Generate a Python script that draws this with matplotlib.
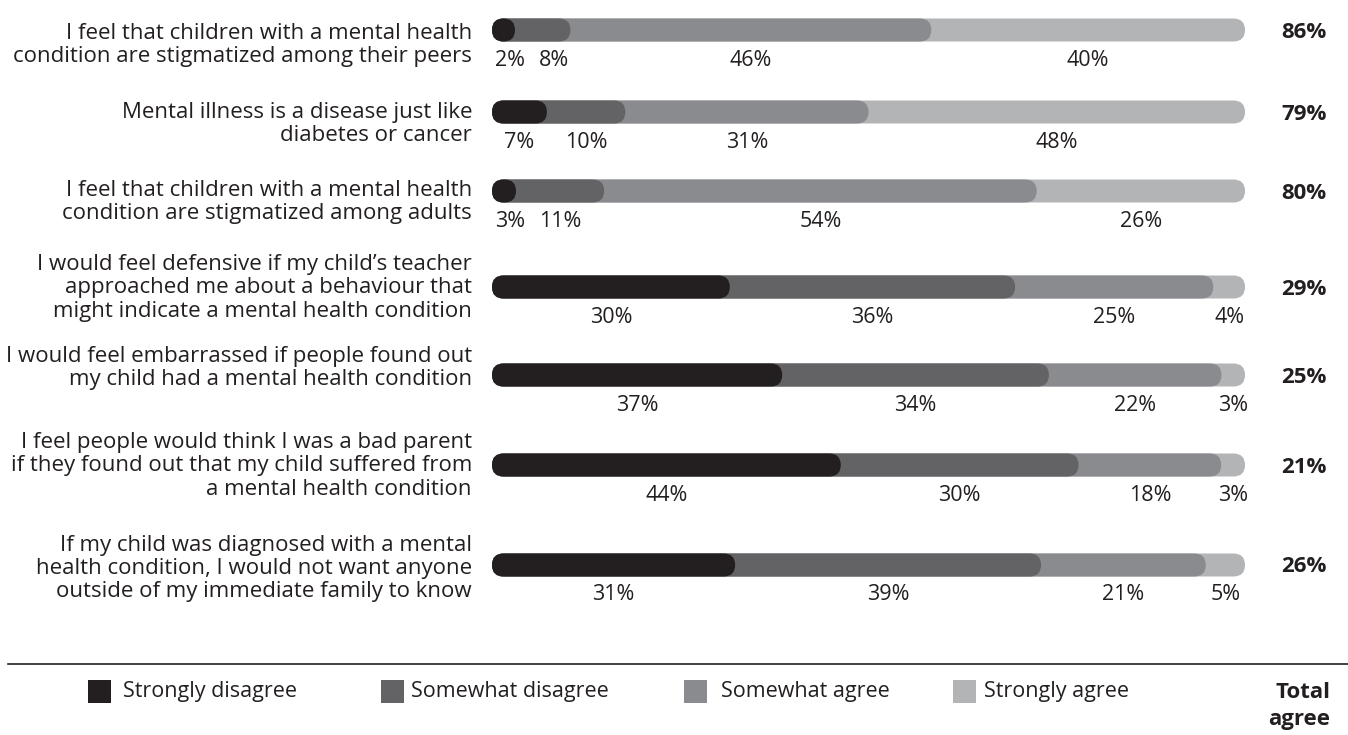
import matplotlib.pyplot as plt
from matplotlib.patches import FancyBboxPatch, Rectangle

plt.rcParams["font.family"] = ["Open Sans", "DejaVu Sans"]

STATEMENTS = [
    "I feel that children with a mental health\ncondition are stigmatized among their peers",
    "Mental illness is a disease just like\ndiabetes or cancer",
    "I feel that children with a mental health\ncondition are stigmatized among adults",
    "I would feel defensive if my child\u2019s teacher\napproached me about a behaviour that\nmight indicate a mental health condition",
    "I would feel embarrassed if people found out\nmy child had a mental health condition",
    "I feel people would think I was a bad parent\nif they found out that my child suffered from\na mental health condition",
    "If my child was diagnosed with a mental\nhealth condition, I would not want anyone\noutside of my immediate family to know",
]
STRONGLY_DISAGREE = [2, 7, 3, 30, 37, 44, 31]
SOMEWHAT_DISAGREE = [8, 10, 11, 36, 34, 30, 39]
SOMEWHAT_AGREE = [46, 31, 54, 25, 22, 18, 21]
STRONGLY_AGREE = [40, 48, 26, 4, 3, 3, 5]
TOTAL_AGREE = [86, 79, 80, 29, 25, 21, 26]

LEGEND_LABELS = ["Strongly disagree", "Somewhat disagree", "Somewhat agree", "Strongly agree"]
COLORS = ["#231f20", "#636365", "#8a8b8e", "#b3b4b6"]
TEXT = "#231f20"

# layout in pixels
W, H = 1348, 735
BAR_X0, BAR_X1 = 492, 1245
BAR_H = 23
ROW_Y = [30, 112, 191, 287, 375, 465, 565]
LABEL_TOP = [33, 112, 190, 264, 356, 442, 545]
LINE_STEP = 23.5
FS = 15.5
LABEL_FS = 16
SWATCH_X = [88, 381, 684, 953]
LEGEND_TEXT_X = [123, 411, 721, 984]

fig = plt.figure(figsize=(W / 100, H / 100), dpi=100)
bg = fig.add_axes([0, 0, 1, 1])
bg.set_xlim(0, W)
bg.set_ylim(H, 0)
bg.axis("off")

ax = fig.add_axes([BAR_X0 / W, 0, (BAR_X1 - BAR_X0) / W, 1])
ax.set_xlim(0, 100)
ax.set_ylim(H, 0)
ax.axis("off")

px_per_unit = (BAR_X1 - BAR_X0) / 100
r = BAR_H / 2 / px_per_unit
gap_units = 44 / px_per_unit

series = [STRONGLY_DISAGREE, SOMEWHAT_DISAGREE, SOMEWHAT_AGREE, STRONGLY_AGREE]

for i, y in enumerate(ROW_Y):
    vals = [s[i] for s in series]
    total = sum(vals)
    shares = [v / total * 100 for v in vals]
    cums = []
    c = 0
    for s in shares:
        c += s
        cums.append(c)
    cums[-1] = 100

    # widest first so each shorter segment sits on top with its rounded end
    for k in range(3, -1, -1):
        width = max(cums[k], 2 * r)
        patch = FancyBboxPatch(
            (0, y - BAR_H / 2), width, BAR_H,
            boxstyle=f"round,pad=0,rounding_size={r}",
            mutation_aspect=px_per_unit,
            facecolor=COLORS[k], edgecolor="none",
        )
        ax.add_patch(patch)

    # value labels centred under each segment, nudged apart when crowded
    starts = [0] + cums[:-1]
    centers = [(a + b) / 2 for a, b in zip(starts, cums)]
    xs = []
    prev = None
    for k, cx in enumerate(centers):
        lo = 18 / px_per_unit
        if prev is not None:
            lo = prev + gap_units
        cx = max(cx, lo)
        xs.append(cx)
        prev = cx
    for k, cx in enumerate(xs):
        ax.text(cx, y + 30, f"{vals[k]}%", ha="center", va="center",
                fontsize=FS, color=TEXT)

    bg.text(1304, y + 2, f"{TOTAL_AGREE[i]}%", ha="center", va="center",
            fontsize=16, fontweight="bold", color=TEXT)

    for j, line in enumerate(STATEMENTS[i].split("\n")):
        bg.text(472, LABEL_TOP[i] + j * LINE_STEP, line, ha="right", va="center",
                fontsize=LABEL_FS, color=TEXT)

bg.plot([8, W], [664, 664], color="#231f20", linewidth=1.2)

for sx, tx, label, col in zip(SWATCH_X, LEGEND_TEXT_X, LEGEND_LABELS, COLORS):
    bg.add_patch(Rectangle((sx, 680), 23, 23, facecolor=col, edgecolor="none"))
    bg.text(tx, 692, label, ha="left", va="center", fontsize=FS, color=TEXT)

bg.text(1330, 692, "Total", ha="right", va="center", fontsize=16,
        fontweight="bold", color=TEXT)
bg.text(1330, 720, "agree", ha="right", va="center", fontsize=16,
        fontweight="bold", color=TEXT)

fig.savefig("out.png", dpi=100)
